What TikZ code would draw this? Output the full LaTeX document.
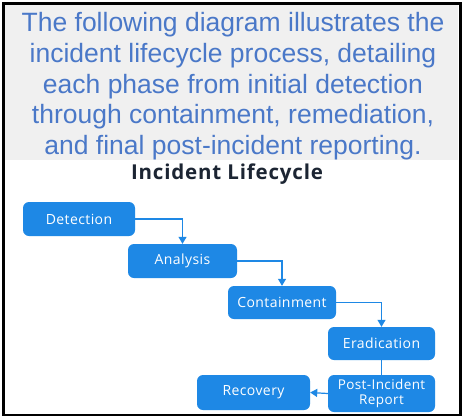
\documentclass[tikz,border=0pt]{standalone}
\usepackage{fontspec}
\setmainfont{Liberation Sans}
\newfontfamily\boxfont{Open Sans}[LetterSpace=3]
\newfontfamily\titlefont{Open Sans}[LetterSpace=4]
\usetikzlibrary{arrows.meta}
\definecolor{hdrblue}{HTML}{4A78C8}
\definecolor{stepblue}{HTML}{1E88E5}
\definecolor{titleink}{HTML}{1C2533}
\definecolor{hdrgray}{HTML}{F0F0F0}
\tikzset{
  stepbox/.style={rectangle, rounded corners=6pt, fill=stepblue, text=white,
    minimum width=#1, minimum height=34pt, inner sep=0pt, align=center,
    font=\boxfont\fontsize{14}{16}\selectfont},
  stepbox/.default=110pt,
  flow/.style={draw=stepblue, line width=1.2pt, -{Triangle[width=8pt,length=7pt]}},
  plainflow/.style={draw=stepblue, line width=1.2pt},
}
\begin{document}
\begin{tikzpicture}[x=1pt,y=-1pt]
\useasboundingbox (0,0) rectangle (463,418);
\fill[white] (0,0) rectangle (463,418);
\fill[hdrgray] (5,5) rectangle (458,160);
\draw[black, line width=2.4pt] (3.5,3.5) rectangle (460.5,415);
\node[anchor=north, inner sep=0pt, align=center, text=hdrblue,
  font=\fontsize{26.5}{30.6}\selectfont] (hdr) at (233,12.5)
  {The following diagram illustrates the\\incident lifecycle process, detailing\\each phase from initial detection\\through containment, remediation,\\and final post-incident reporting.};
\node[anchor=base, inner sep=0pt, text=titleink,
  font=\titlefont\bfseries\fontsize{20.5}{24}\selectfont] (title) at (227,179) {Incident Lifecycle};
\node[stepbox=112pt] (det) at (79,219) {Detection};
\node[stepbox=109pt] (ana) at (182.5,261) {Analysis};
\node[stepbox=108pt, minimum height=33pt] (con) at (282,302.5) {Containment};
\node[stepbox=107pt, minimum height=33pt] (era) at (381.5,343.5) {Eradication};
\node[stepbox=107pt, minimum height=37pt, font=\boxfont\fontsize{13.5}{15}\selectfont] (post) at (381.5,393.5) {Post-Incident\\Report};
\node[stepbox=113pt, minimum height=35pt] (rec) at (253.5,392.5) {Recovery};
\draw[flow] (det.east) -| (ana.north);
\draw[flow] (ana.east) -| (con.north);
\draw[flow] (con.east) -| (era.north);
\draw[plainflow] (era.south) -- (post.north);
\draw[flow] (post.west) -- (rec.east);
\end{tikzpicture}
\end{document}
